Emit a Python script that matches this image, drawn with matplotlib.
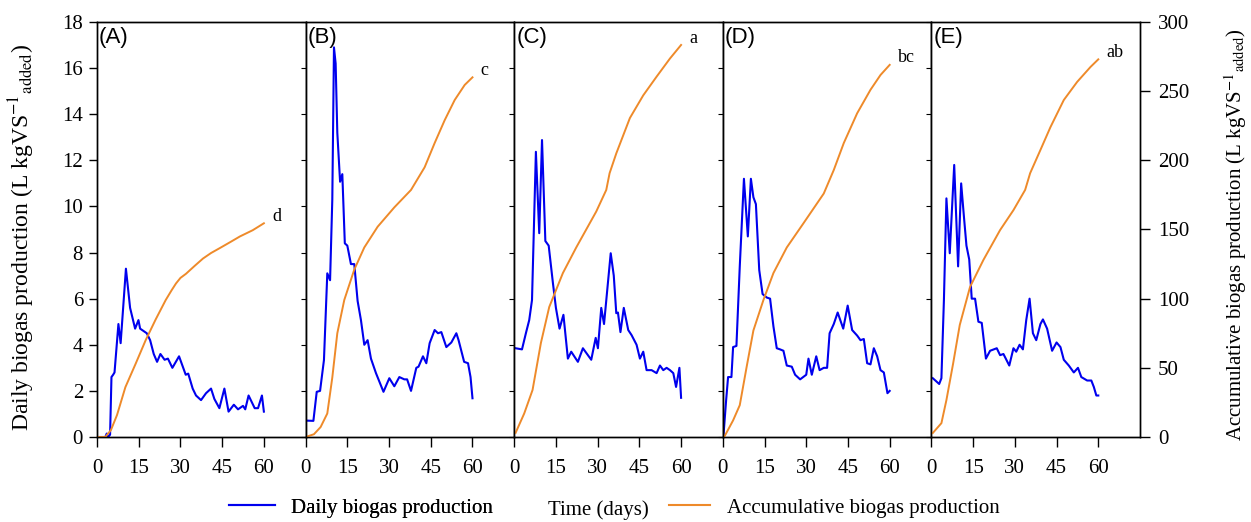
import matplotlib
matplotlib.use("Agg")
import matplotlib.pyplot as plt
from matplotlib.lines import Line2D

plt.rcParams['font.family'] = ['Liberation Serif', 'DejaVu Serif']
plt.rcParams['mathtext.fontset'] = 'stix'

# ---- data ----
panel_labels = ['(A)', '(B)', '(C)', '(D)', '(E)']
end_letters = ['d', 'c', 'a', 'bc', 'ab']
xticks = [0, 15, 30, 45, 60]

# daily biogas production (L kgVS-1 added)
day_A = [0, 3, 3.5, 4, 4.7, 5.2, 5.8, 6.3, 7.7, 8.5, 10.4, 11.9, 13.7, 14.9, 15.5, 16.7, 17.9, 19.1, 20.4,
         21.6, 22.8, 24.3, 25.5, 27.1, 29.5, 31.9, 32.8, 34.4, 35.6, 37.4, 39.2, 41, 42.2, 44, 45.8, 47.3,
         49.2, 50.7, 52.5, 53.3, 54.5, 56.7, 57.9, 59.3, 60]
daily_A = [0, 0, 0.15, 0, 0.1, 2.6, 2.7, 2.8, 4.9, 4.07, 7.3, 5.6, 4.7, 5.07, 4.7, 4.6, 4.5, 4.2, 3.6,
           3.26, 3.6, 3.35, 3.4, 3.0, 3.5, 2.7, 2.75, 2.1, 1.8, 1.6, 1.9, 2.1, 1.65, 1.25, 2.1, 1.1,
           1.4, 1.2, 1.35, 1.2, 1.8, 1.25, 1.25, 1.8, 1.1]

day_B = [0.5, 2.8, 4, 5.2, 6.6, 7.8, 8.8, 9.6, 10.2, 10.8, 11.4, 12.4, 13.2, 14.1, 15, 16.3, 17.5, 18.7,
         19.9, 21.1, 22.3, 23.5, 25.3, 28, 30.1, 31.9, 33.7, 35.5, 36.5, 37.9, 39.8, 40.6, 42.2, 43.4,
         44.6, 46.4, 47.6, 48.8, 50.6, 52.4, 54.2, 55, 57, 58.4, 59.3, 60]
daily_B = [0.71, 0.7, 1.96, 2.0, 3.34, 7.1, 6.8, 10.3, 16.9, 16.2, 13.2, 11.07, 11.4, 8.4, 8.3, 7.5, 7.5,
           5.9, 5.07, 4.0, 4.2, 3.4, 2.77, 1.96, 2.55, 2.2, 2.6, 2.5, 2.5, 2.0, 3.0, 3.05, 3.5, 3.2,
           4.07, 4.64, 4.5, 4.55, 3.9, 4.1, 4.5, 4.2, 3.26, 3.2, 2.6, 1.68]

day_C = [0.5, 2.8, 4.2, 5.4, 6.4, 7.8, 9, 10, 11.2, 12.4, 13.9, 15, 16.3, 17.7, 19.3, 20.5, 22.9, 24.7,
         27.7, 29.3, 30.1, 31.3, 32.3, 34.7, 35.8, 36.7, 37.3, 38.2, 39.4, 41, 42.2, 44, 45.2, 46.4,
         47.6, 49.4, 51.2, 52.4, 53.6, 54.8, 56, 57.2, 58.2, 59.4, 60]
daily_C = [3.85, 3.8, 4.5, 5.07, 5.94, 12.37, 8.84, 12.88, 8.5, 8.3, 6.7, 5.6, 4.7, 5.3, 3.4, 3.7, 3.26,
           3.85, 3.35, 4.3, 3.85, 5.6, 4.9, 7.97, 7.0, 5.37, 5.4, 4.55, 5.6, 4.64, 4.42, 4.0, 3.4, 3.7,
           2.9, 2.9, 2.77, 3.1, 2.9, 3.0, 2.9, 2.77, 2.17, 3.0, 1.7]

day_D = [0.2, 1.2, 1.9, 3.1, 3.7, 4.9, 6.1, 7.6, 9, 10.1, 11, 11.9, 13.1, 14.3, 15.8, 17, 18.2, 19.4,
         20.6, 21.8, 23, 24.8, 26, 27.8, 30, 30.8, 32, 33.6, 34.8, 36.3, 37.5, 38.4, 39.9, 41.3, 43.3,
         44.9, 46.5, 48.3, 49.5, 50.7, 51.9, 53.1, 54.3, 55.5, 56.7, 57.9, 59.2, 60]
daily_D = [0, 1.6, 2.6, 2.6, 3.9, 3.95, 7.4, 11.2, 8.7, 11.2, 10.4, 10.1, 7.24, 6.2, 6.05, 6.0, 4.8, 3.85,
           3.8, 3.74, 3.1, 3.05, 2.7, 2.5, 2.7, 3.4, 2.7, 3.5, 2.9, 3.0, 3.0, 4.5, 4.9, 5.4, 4.7,
           5.7, 4.64, 4.4, 4.2, 4.25, 3.2, 3.15, 3.85, 3.5, 2.9, 2.8, 1.9, 2.0]

day_E = [0.5, 2.8, 3.6, 4.5, 5.4, 6.6, 8.2, 9.6, 10.7, 11.7, 12.6, 13.6, 14.5, 15.7, 16.9, 18.1, 19.6,
         21.1, 23.5, 24.7, 25.9, 28, 29.5, 30.5, 31.7, 32.9, 34.1, 35.3, 36.5, 37.7, 39.2, 40.1, 41.6,
         43.4, 45, 46.4, 47.6, 49.4, 51.2, 52.7, 53.9, 56, 57.5, 58.4, 59.3, 60]
daily_E = [2.55, 2.3, 2.55, 5.94, 10.35, 7.97, 11.8, 7.4, 11.0, 9.55, 8.3, 7.7, 6.0, 6.0, 5.0, 4.95, 3.4,
           3.74, 3.85, 3.55, 3.6, 3.1, 3.85, 3.7, 4.0, 3.8, 5.07, 6.0, 4.5, 4.2, 4.9, 5.1, 4.7,
           3.74, 4.1, 3.9, 3.35, 3.1, 2.8, 3.0, 2.6, 2.45, 2.45, 2.17, 1.8, 1.8]

# accumulative biogas production (L kgVS-1 added)
cday_A = [0, 3, 5, 7.2, 10.2, 13.9, 17.5, 21.1, 24.7, 26.8, 28.4, 30, 32, 35, 38.1, 41, 44.1, 48, 51.4, 56, 60]
cum_A = [0, 0, 5, 15.9, 36, 53, 70, 85, 99, 106, 111, 115, 118, 123.5, 129, 133, 136.5, 141, 145, 149.5, 154.5]

cday_B = [0, 3, 5.4, 7.8, 9.6, 11.4, 13.9, 17.5, 21.1, 25.9, 31.9, 37.9, 42.8, 46.4, 50, 53.6, 57.2, 60]
cum_B = [0, 2, 7.2, 17, 43, 75, 99, 121, 137, 152, 166, 178.6, 195, 212.5, 229, 243.6, 254.5, 260]

cday_C = [0.5, 3.6, 6.6, 9.6, 12.6, 17.5, 22.3, 29.5, 33.1, 34.3, 36.7, 41.6, 46.4, 51.2, 56, 60]
cum_C = [3, 17, 34, 68, 94, 118.5, 137, 163, 178.6, 190.7, 205, 230.6, 247, 260.5, 273.6, 283.4]

cday_D = [0.5, 3.7, 6.1, 8.6, 11, 14.6, 18.2, 23, 29, 36.3, 39.9, 43.5, 48.3, 53.1, 56.7, 60]
cum_D = [0, 12, 23, 51, 77, 99, 118.5, 137, 154.5, 176, 193, 212.5, 234, 251, 261.7, 269]

cday_E = [0.5, 3.6, 5.4, 7.8, 10.2, 13.9, 18.7, 24.7, 29.5, 33.7, 35.5, 39.2, 42.8, 47.6, 52.4, 57.2, 60]
cum_E = [2.9, 10, 26.7, 53, 81, 108.5, 128, 149.6, 164, 178.6, 190.7, 207.5, 224, 243.6, 256.7, 267.5, 273]

days = [day_A, day_B, day_C, day_D, day_E]
dailies = [daily_A, daily_B, daily_C, daily_D, daily_E]
cdays = [cday_A, cday_B, cday_C, cday_D, cday_E]
cums = [cum_A, cum_B, cum_C, cum_D, cum_E]

blue = '#0000EE'
orange = '#EE8A2A'

fig, axes = plt.subplots(1, 5, figsize=(12.51, 5.22), dpi=100, sharey=True)
fig.subplots_adjust(left=97 / 1251, right=1140 / 1251, top=1 - 22 / 522, bottom=1 - 437 / 522, wspace=0)

for i, ax in enumerate(axes):
    ax.plot(days[i], dailies[i], color=blue, lw=1.5, solid_joinstyle='round')
    ax.set_xlim(0, 75)
    ax.set_ylim(0, 18)
    ax.set_xticks(xticks)
    ax.tick_params(axis='x', direction='out', length=7, width=1, pad=9, labelsize=15)
    ax.text(0.01, 0.988, panel_labels[i], transform=ax.transAxes, ha='left', va='top',
            fontsize=16, family=['Liberation Sans', 'DejaVu Sans'])
    for s in ax.spines.values():
        s.set_linewidth(1.0)
    if i == 0:
        ax.set_yticks(range(0, 19, 2))
        ax.tick_params(axis='y', direction='out', length=6, width=1, labelsize=15, pad=4)
    else:
        ax.tick_params(axis='y', left=False)

    tw = ax.twinx()
    tw.plot(cdays[i], cums[i], color=orange, lw=1.4, solid_joinstyle='round')
    tw.set_ylim(0, 300)
    tw.annotate(end_letters[i], xy=(cdays[i][-1], cums[i][-1]), xytext=(6, 5),
                textcoords='offset points', fontsize=13, ha='left', va='center')
    for s in tw.spines.values():
        s.set_linewidth(1.0)
    if i == 4:
        tw.set_yticks(range(0, 301, 50))
        tw.tick_params(axis='y', direction='out', length=7, width=1, labelsize=15, pad=6)
    else:
        tw.tick_params(axis='y', right=False, labelright=False)
        tw.spines['right'].set_visible(False)

fig.text(22 / 1251, 0.545, r'Daily biogas production (L kgVS$^{-1}$$_{\mathrm{added}}$)',
         rotation=90, ha='center', va='center', fontsize=17)
fig.text(1236 / 1251, 0.55, r'Accumulative biogas production (L kgVS$^{-1}$$_{\mathrm{added}}$)',
         rotation=90, ha='center', va='center', fontsize=15)

h1 = Line2D([], [], color=blue, lw=1.5)
h2 = Line2D([], [], color=orange, lw=1.5)
leg1 = fig.legend([h1], ['Daily biogas production'], loc='center left', frameon=False,
                  bbox_to_anchor=(210 / 1251, 1 - 508 / 522), fontsize=15, handlelength=2.2,
                  handletextpad=0.8)
fig.add_artist(leg1)
fig.text(598 / 1251, 1 - 510 / 522, 'Time (days)', ha='center', va='center', fontsize=15)
fig.legend([h2], ['Accumulative biogas production'], loc='center left', frameon=False,
           bbox_to_anchor=(650 / 1251, 1 - 508 / 522), fontsize=15, handlelength=2.0,
           handletextpad=0.8)

fig.savefig('out.png', dpi=100)
